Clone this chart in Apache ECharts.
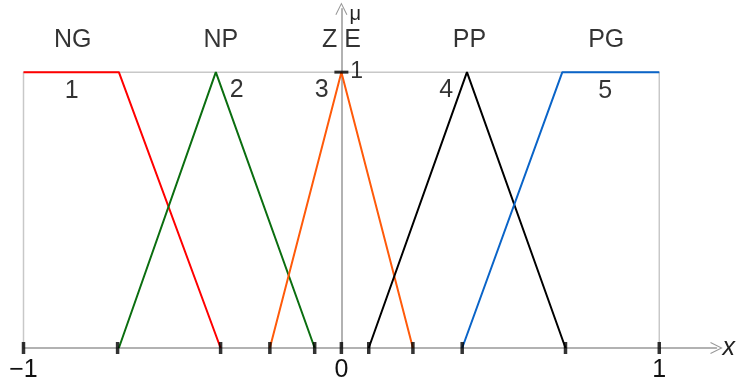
<!DOCTYPE html>
<html>
<head>
<meta charset="utf-8">
<script src="https://cdn.jsdelivr.net/npm/echarts@6/dist/echarts.min.js"></script>
<style>
html,body{margin:0;padding:0;background:#fff;}
#main{width:738px;height:383px;}
</style>
</head>
<body>
<div id="main"></div>
<script>
// membership functions, [x, mu]
var ng = [[-1, 1], [-0.7, 1], [-0.38, 0]];
var np = [[-0.7, 0], [-0.395, 1], [-0.084, 0]];
var ze = [[-0.225, 0], [0, 1], [0.225, 0]];
var pp = [[0.086, 0], [0.395, 1], [0.705, 0]];
var pg = [[0.38, 0], [0.695, 1], [1, 1]];
var box = [[-1, 0], [-1, 1], [1, 1], [1, 0]];

var tickX = [-1, -0.704, -0.38, -0.225, -0.084, 0, 0.086, 0.225, 0.38, 0.705, 1];
var tickLabels = [-1, 0, 1];

var setNames = ['NG', 'NP', 'Z E', 'PP', 'PG'];
var namePos = [[-0.845, 1.117], [-0.379, 1.117], [0, 1.117], [0.403, 1.117], [0.833, 1.117]];
var setNums = ['1', '2', '3', '4', '5'];
var numPos = [[-0.848, 0.93], [-0.329, 0.935], [-0.062, 0.935], [0.33, 0.935], [0.83, 0.93]];
var muOne = [[0.048, 1]];

var font = 'Liberation Sans, Arial, sans-serif';

function line(name, data, color) {
	return {
		name: name, type: 'line', data: data, symbol: 'none', silent: true,
		lineStyle: { color: color, width: 2 }, z: 3
	};
}

function textSeries(names, pos, size) {
	return {
		type: 'scatter', symbolSize: 0, silent: true, z: 5,
		data: pos.map(function (p, i) { return { value: p, label: { formatter: names[i] } }; }),
		label: {
			show: true, position: 'inside', color: '#000',
			fontFamily: font, fontSize: size
		}
	};
}

var arrow = 'path://M-5,10 L0,0 L5,10 L4.2,10.4 L0,2 L-4.2,10.4 Z';

var myChart = echarts.init(document.getElementById('main'));
var option = {
	animation: false,
	backgroundColor: '#fff',
	grid: { left: 23.5, right: 20.7, top: 8.7, bottom: 33 },
	xAxis: {
		type: 'value', min: -1, max: 1.18,
		name: 'x', nameLocation: 'end', nameGap: 6,
		nameTextStyle: { fontFamily: font, fontSize: 25, fontStyle: 'italic', color: '#222', verticalAlign: 'middle' },
		axisLine: { onZero: true, lineStyle: { color: '#999', width: 1.5 }, symbol: ['none', arrow], symbolSize: [12, 14] },
		axisTick: { show: false },
		splitLine: { show: false },
		axisLabel: {
			customValues: tickLabels, margin: 10, color: '#111', fontFamily: font, fontSize: 25,
			formatter: function (v) { return v < 0 ? '\u2212' + Math.abs(v) : String(v); }
		}
	},
	yAxis: {
		type: 'value', min: 0, max: 1.23,
		name: 'μ', nameLocation: 'end', nameGap: -16,
		nameTextStyle: { fontFamily: font, fontSize: 20, color: '#222', align: 'left', padding: [0, 0, 0, 8] },
		axisLine: { onZero: true, lineStyle: { color: '#999', width: 1.5 }, symbol: ['none', arrow], symbolSize: [12, 14] },
		axisTick: { show: false },
		splitLine: { show: false },
		axisLabel: { show: false }
	},
	series: [
		{
			type: 'line', data: box, symbol: 'none', silent: true, z: 1,
			lineStyle: { color: '#c8c8c8', width: 1.5 }
		},
		line('NG', ng, '#ff0000'),
		line('NP', np, '#0b6e10'),
		line('ZE', ze, '#ff5a0a'),
		line('PP', pp, '#000000'),
		line('PG', pg, '#0a64c8'),
		{
			type: 'scatter', silent: true, z: 6,
			data: tickX.map(function (x) { return [x, 0]; }),
			symbol: 'rect', symbolSize: [3.5, 12],
			itemStyle: { color: '#000' }
		},
		{
			type: 'scatter', silent: true, z: 6,
			data: [[0, 1]], symbol: 'rect', symbolSize: [14, 3],
			itemStyle: { color: '#000' }
		},
		textSeries(setNames, namePos, 25),
		textSeries(setNums, numPos, 25),
		textSeries(['1'], muOne, 23)
	]
};
myChart.setOption(option);
</script>
</body>
</html>
